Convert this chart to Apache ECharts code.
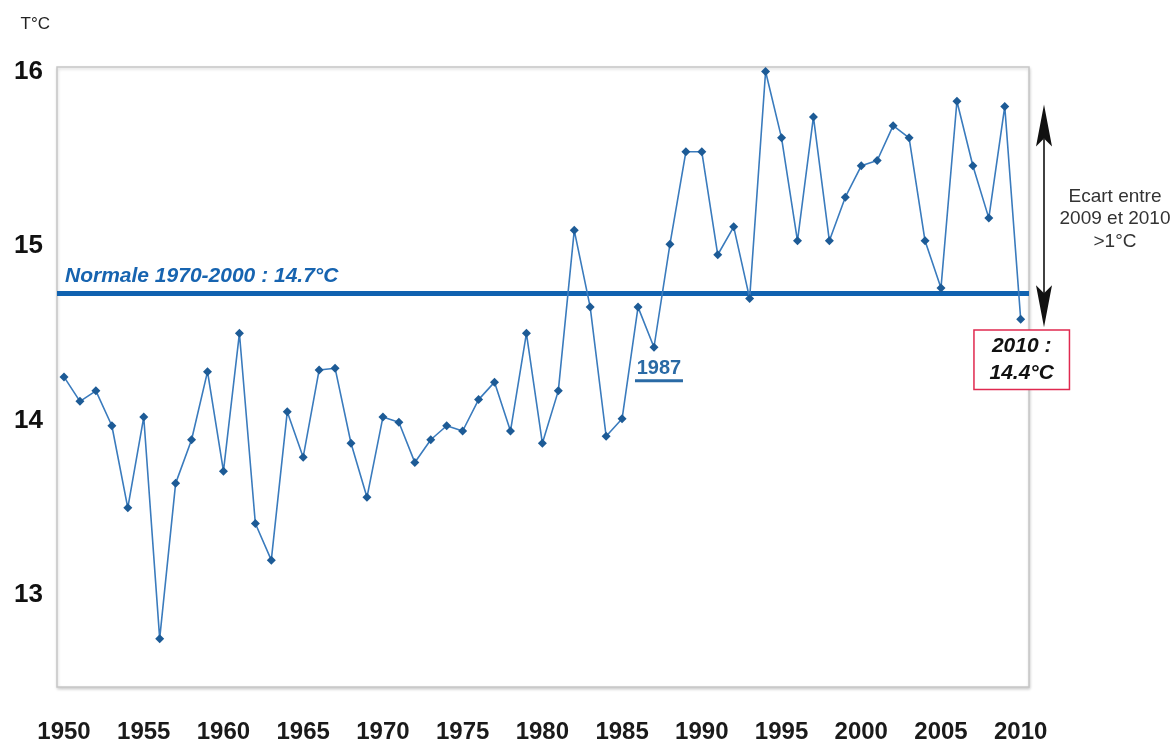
<!DOCTYPE html>
<html><head><meta charset="utf-8">
<script src="https://cdn.jsdelivr.net/npm/echarts@6/dist/echarts.min.js"></script>
<style>html,body{margin:0;padding:0;background:#fff}#c{width:1174px;height:744px}</style>
</head><body><div id="c"></div>
<script>
const years = [1950,1951,1952,1953,1954,1955,1956,1957,1958,1959,
  1960,1961,1962,1963,1964,1965,1966,1967,1968,1969,
  1970,1971,1972,1973,1974,1975,1976,1977,1978,1979,
  1980,1981,1982,1983,1984,1985,1986,1987,1988,1989,
  1990,1991,1992,1993,1994,1995,1996,1997,1998,1999,
  2000,2001,2002,2003,2004,2005,2006,2007,2008,2009,2010];
const temps = [14.25,14.11,14.17,13.97,13.50,14.02,12.75,13.64,13.89,14.28,
  13.71,14.50,13.41,13.20,14.05,13.79,14.29,14.30,13.87,13.56,
  14.02,13.99,13.76,13.89,13.97,13.94,14.12,14.22,13.94,14.50,
  13.87,14.17,15.09,14.65,13.91,14.01,14.65,14.42,15.01,15.54,
  15.54,14.95,15.11,14.70,16.00,15.62,15.03,15.74,15.03,15.28,
  15.46,15.49,15.69,15.62,15.03,14.76,15.83,15.46,15.16,15.80,14.58];
const yTicks = [13, 14, 15, 16];
const xTicks = [1950,1955,1960,1965,1970,1975,1980,1985,1990,1995,2000,2005,2010];
const normale = 14.73;
const normaleLabel = 'Normale 1970-2000 : 14.7°C';
const noteYearIdx = 37; // 1987
const lastIdx = 60;     // 2010
const prevIdx = 59;     // 2009
const lastLabel = ['2010 :', '14.4°C'];
const ecartText = ['Ecart entre', '2009 et 2010', '>1°C'];

const FONT = "'Liberation Sans', Arial, sans-serif";
const chart = echarts.init(document.getElementById('c'), null, {renderer: 'canvas'});
const data = years.map((y, i) => [y, temps[i]]);
const option = {
  animation: false,
  backgroundColor: '#fff',
  grid: {
    left: 57, right: 145, top: 67, bottom: 57,
    show: true, backgroundColor: '#fff', borderColor: '#c6c6c6', borderWidth: 1.5,
    shadowColor: 'rgba(0,0,0,0.18)', shadowBlur: 3, shadowOffsetY: 1.5, shadowOffsetX: 0.5
  },
  xAxis: {
    type: 'value', min: 1949.56, max: 2010.52,
    axisLine: {show: false}, axisTick: {show: false}, splitLine: {show: false},
    axisLabel: {
      customValues: xTicks, margin: 33,
      formatter: v => String(v),
      fontFamily: FONT, fontWeight: 'bold', fontSize: 24, color: '#1a1a1a'
    }
  },
  yAxis: {
    type: 'value', min: 12.473, max: 16.026,
    name: 'T°C', nameLocation: 'end', nameGap: 43,
    nameTextStyle: {fontFamily: FONT, fontSize: 17, color: '#222',
      align: 'right', verticalAlign: 'middle', padding: [0, 7, 0, 0]},
    axisLine: {show: false}, axisTick: {show: false}, splitLine: {show: false},
    axisLabel: {
      customValues: yTicks, margin: 14,
      formatter: v => String(v),
      fontFamily: FONT, fontWeight: 'bold', fontSize: 26, color: '#111'
    }
  },
  series: [{
    type: 'line', data: data,
    symbol: 'diamond', symbolSize: 9,
    itemStyle: {color: '#1d5b96'},
    lineStyle: {color: '#3a7bbd', width: 1.6},
    z: 3,
    markLine: {
      silent: true, symbol: ['none', 'none'],
      lineStyle: {color: '#1062b0', width: 5, type: 'solid'},
      label: {
        show: true, position: 'insideStartTop', formatter: normaleLabel, distance: [8, 6],
        fontFamily: FONT, fontWeight: 'bold', fontStyle: 'italic',
        fontSize: 21, color: '#1764b0'
      },
      data: [{yAxis: normale}],
      z: 2
    },
    markPoint: {
      symbol: 'circle', symbolSize: 1, itemStyle: {color: 'rgba(0,0,0,0)'},
      silent: true,
      data: [
        {
          coord: [years[noteYearIdx], temps[noteYearIdx]],
          label: {
            show: true, position: 'bottom', distance: 11, offset: [5, 0],
            formatter: '{a|' + years[noteYearIdx] + '}\n{u|}',
            rich: {
              a: {fontFamily: FONT, fontWeight: 'bold', fontSize: 20,
                  color: '#2a6aa5', lineHeight: 20, align: 'center'},
              u: {width: 48, height: 3, backgroundColor: '#2a6aa5', lineHeight: 4, align: 'center'}
            }
          }
        },
        {
          coord: [years[lastIdx], temps[lastIdx]],
          label: {
            show: true, position: 'bottom', distance: 11, offset: [1, 0],
            formatter: lastLabel.join('\n'),
            fontFamily: FONT, fontWeight: 'bold', fontStyle: 'italic',
            fontSize: 21, color: '#111', lineHeight: 27, align: 'center',
            width: 94, padding: [2, 0, 2, 0],
            borderColor: '#e0294f', borderWidth: 1.5, backgroundColor: '#fff'
          }
        }
      ]
    }
  }]
};
chart.setOption(option);

function drawArrow() {
  const pTop = chart.convertToPixel({gridIndex: 0}, [years[prevIdx], temps[prevIdx]]);
  const pBot = chart.convertToPixel({gridIndex: 0}, [years[lastIdx], temps[lastIdx]]);
  const gridRight = chart.convertToPixel({gridIndex: 0}, [2010.52, 14])[0];
  const cx = gridRight + 15;
  const top = pTop[1] - 2;
  const bot = pBot[1] + 8;
  const hl = 42, hw = 8, notch = 34;
  chart.setOption({
    graphic: [
      {type: 'line', shape: {x1: cx, y1: top + notch, x2: cx, y2: bot - notch},
       style: {stroke: '#111', lineWidth: 1.6}},
      {type: 'polygon', shape: {points: [[cx, top], [cx + hw, top + hl], [cx, top + notch], [cx - hw, top + hl]]},
       style: {fill: '#111'}},
      {type: 'polygon', shape: {points: [[cx, bot], [cx + hw, bot - hl], [cx, bot - notch], [cx - hw, bot - hl]]},
       style: {fill: '#111'}},
      {type: 'text', x: cx + 71, y: (top + bot) / 2 + 3,
       style: {text: ecartText.join('\n'), font: "19px 'Liberation Sans', Arial, sans-serif",
               fill: '#333', align: 'center', verticalAlign: 'middle', lineHeight: 22.5}}
    ]
  });
}
drawArrow();
</script>
</body></html>
